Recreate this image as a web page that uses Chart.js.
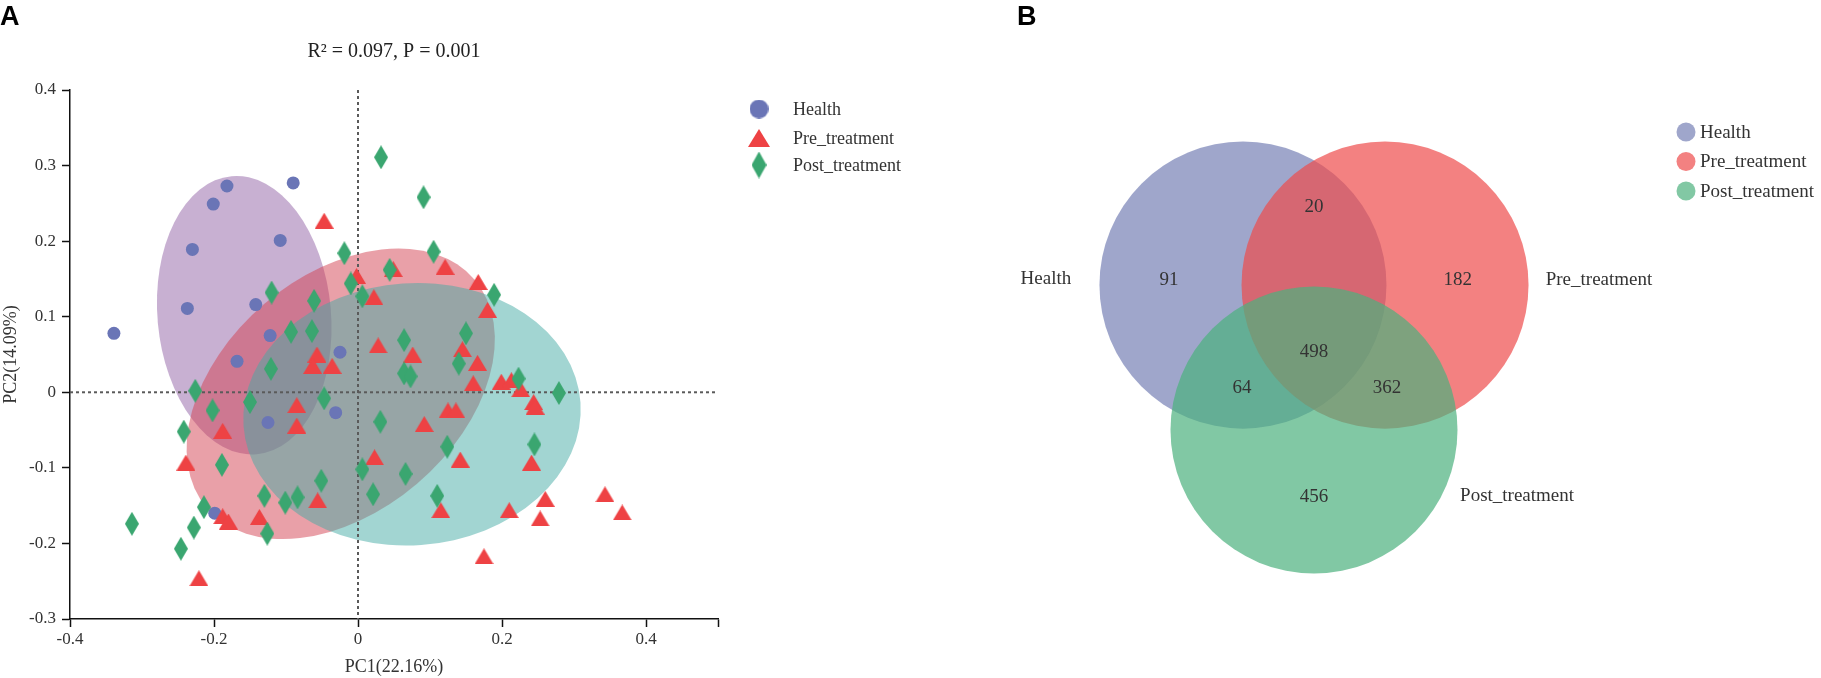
<!DOCTYPE html>
<html><head><meta charset="utf-8">
<script src="https://cdn.jsdelivr.net/npm/chart.js@4.4.0/dist/chart.umd.min.js"></script>
<style>
html,body{margin:0;padding:0;background:#fff;}
#wrap{position:relative;width:1821px;height:678px;overflow:hidden;background:#fff;}
#cA{position:absolute;left:0;top:0;}
#cB{position:absolute;left:1000px;top:0;}
</style></head><body>
<div id="wrap"><canvas id="cA" width="1000" height="678"></canvas><canvas id="cB" width="821" height="678"></canvas></div>
<script>
// ---------- DATA: panel A (PCoA) ----------
const groups = ['Health', 'Pre_treatment', 'Post_treatment'];
const healthX = [-0.339,-0.182,-0.201,-0.090,-0.230,-0.108,-0.237,-0.142,-0.122,-0.168,-0.025,-0.031,-0.125,-0.199];
const healthY = [0.078,0.273,0.249,0.277,0.189,0.201,0.111,0.116,0.075,0.041,0.053,-0.027,-0.040,-0.160];
const preX = [-0.047,-0.002,0.049,0.121,0.022,0.167,0.180,0.028,0.076,0.145,-0.057,-0.063,-0.036,0.166,
  0.160,0.199,0.213,0.226,0.244,0.246,0.125,0.136,0.092,-0.085,-0.085,-0.188,-0.239,0.023,0.142,0.241,
  -0.056,-0.137,-0.188,-0.180,0.115,0.210,0.260,0.253,0.343,0.367,0.175,-0.221];
const preY = [0.227,0.154,0.163,0.166,0.126,0.146,0.109,0.062,0.050,0.057,0.050,0.035,0.035,0.039,
  0.012,0.014,0.016,0.004,-0.013,-0.019,-0.024,-0.024,-0.042,-0.017,-0.044,-0.051,-0.093,-0.086,-0.089,-0.093,
  -0.143,-0.165,-0.164,-0.171,-0.156,-0.156,-0.141,-0.167,-0.135,-0.159,-0.217,-0.246];
const postX = [0.032,0.091,-0.019,0.105,0.044,-0.010,0.006,0.189,-0.120,-0.061,-0.093,-0.064,0.064,0.150,0.140,
  0.064,0.073,0.223,0.279,-0.121,-0.226,-0.202,-0.150,-0.047,0.031,-0.242,-0.189,0.245,0.124,0.006,0.066,
  -0.051,0.110,0.021,-0.130,-0.101,-0.084,-0.214,-0.126,-0.314,-0.228,-0.246];
const postY = [0.311,0.258,0.184,0.186,0.162,0.144,0.127,0.129,0.132,0.121,0.080,0.081,0.069,0.078,0.038,
  0.025,0.021,0.018,-0.001,0.031,0.002,-0.024,-0.013,-0.008,-0.039,-0.052,-0.096,-0.069,-0.072,-0.102,-0.108,
  -0.117,-0.137,-0.135,-0.137,-0.146,-0.139,-0.152,-0.187,-0.174,-0.179,-0.207];
// confidence ellipses: centre and two conjugate half-axes, in PC units
const ellipseCenter = [[-0.158, 0.102], [-0.024, -0.002], [0.075, -0.029]];
const ellipseAxisU  = [[-0.0175, 0.184], [0.186, 0.151], [0.234, 0.0156]];
const ellipseAxisV  = [[0.120, 0.0103], [-0.106, 0.119], [-0.0127, 0.173]];
const xTicks = [-0.4, -0.2, 0, 0.2, 0.4, 0.5];
const yTicks = [-0.3, -0.2, -0.1, 0, 0.1, 0.2, 0.3, 0.4];
const statsText = 'R\u00B2 = 0.097, P = 0.001';
const xTitle = 'PC1(22.16%)';
const yTitle = 'PC2(14.09%)';

// ---------- DATA: panel B (Venn) ----------
const vennSets = ['Health', 'Pre_treatment', 'Post_treatment'];
const vennRegions = ['Health', 'Pre_treatment', 'Post_treatment', 'Health&Pre', 'Health&Post', 'Pre&Post', 'All'];
const vennCounts = [91, 182, 456, 20, 64, 362, 498];

// ---------- STYLE / LAYOUT ----------
const SERIF = 'Liberation Serif, Times New Roman, serif';
const SANS = 'Liberation Sans, Arial, sans-serif';
const pointColors = ['rgb(106,117,182)', 'rgb(238,66,68)', 'rgb(58,166,112)'];
const ellipseFills = ['rgba(145,97,165,0.5)', 'rgba(211,65,81,0.5)', 'rgba(69,171,165,0.5)'];
const vennFills = ['rgba(118,128,181,0.7)', 'rgba(238,75,75,0.7)', 'rgba(76,176,125,0.7)'];
const vennLegendFills = ['rgb(159,166,203)', 'rgb(243,129,129)', 'rgb(130,200,164)'];
// Venn geometry in units of circle radius (origin at triple overlap)
const vennRadius = 1;
const vennCentres = [[-0.495, 0.334], [0.495, 0.334], [0.0, -0.676]];
const vennCountPos = [[-1.010, 0.369], [1.001, 0.369], [0, -1.143], [0, 0.878], [-0.502, -0.383], [0.509, -0.383], [0, -0.132]];
const vennNamePos = [[-1.868, 0.376], [1.986, 0.369], [1.415, -1.136]];

function makeShape(kind, w, h, color) {
  const c = document.createElement('canvas');
  c.width = w; c.height = h;
  const g = c.getContext('2d');
  g.fillStyle = color;
  g.beginPath();
  if (kind === 'diamond') { g.moveTo(w/2, 0); g.lineTo(w, h/2); g.lineTo(w/2, h); g.lineTo(0, h/2); }
  else if (kind === 'triangle') { g.moveTo(w/2, 0); g.lineTo(w, h); g.lineTo(0, h); }
  else { g.arc(w/2, h/2, w/2, 0, Math.PI*2); }
  g.closePath(); g.fill();
  return c;
}
const triImg = makeShape('triangle', 19, 16, pointColors[1]);
const diaImg = makeShape('diamond', 14, 24, pointColors[2]);
const legCirc = makeShape('circle', 19, 19, pointColors[0]);
const legTri = makeShape('triangle', 22, 18, pointColors[1]);
const legDia = makeShape('diamond', 15, 27, pointColors[2]);

const fmt = v => String(+(+v).toFixed(1));
const pts = (xs, ys) => xs.map((x, i) => ({x: x, y: ys[i]}));

const pcoaPlugin = {
  id: 'pcoaExtras',
  beforeDatasetsDraw(chart) {
    const {ctx, chartArea: a, scales: {x, y}} = chart;
    for (let i = 0; i < ellipseCenter.length; i++) {
      const c = ellipseCenter[i], u = ellipseAxisU[i], v = ellipseAxisV[i];
      const cx = x.getPixelForValue(c[0]), cy = y.getPixelForValue(c[1]);
      const ux = x.getPixelForValue(c[0] + u[0]) - cx, uy = y.getPixelForValue(c[1] + u[1]) - cy;
      const vx = x.getPixelForValue(c[0] + v[0]) - cx, vy = y.getPixelForValue(c[1] + v[1]) - cy;
      ctx.save();
      ctx.beginPath();
      ctx.transform(ux, uy, vx, vy, cx, cy);
      ctx.arc(0, 0, 1, 0, Math.PI * 2);
      ctx.restore();
      ctx.save();
      ctx.fillStyle = ellipseFills[i];
      ctx.fill();
      ctx.restore();
    }
    ctx.save();
    ctx.strokeStyle = '#5a5a5a';
    ctx.lineWidth = 2;
    ctx.setLineDash([3, 3]);
    const x0 = x.getPixelForValue(0), y0 = y.getPixelForValue(0);
    ctx.beginPath(); ctx.moveTo(x0, a.top); ctx.lineTo(x0, a.bottom); ctx.stroke();
    ctx.beginPath(); ctx.moveTo(a.left, y0); ctx.lineTo(a.right, y0); ctx.stroke();
    ctx.restore();
  },
  afterDraw(chart) {
    const {ctx, chartArea: a} = chart;
    ctx.save();
    ctx.fillStyle = '#222';
    ctx.font = '20px ' + SERIF;
    ctx.textAlign = 'center'; ctx.textBaseline = 'middle';
    ctx.fillText(statsText, (a.left + a.right) / 2, 52);
    ctx.font = 'bold 27px ' + SANS;
    ctx.textAlign = 'left'; ctx.textBaseline = 'alphabetic';
    ctx.fillStyle = '#000';
    ctx.fillText('A', 0, 25);
    const imgs = [legCirc, legTri, legDia];
    const ly = [109, 138, 165];
    ctx.font = '18px ' + SERIF;
    ctx.fillStyle = '#333';
    ctx.textBaseline = 'middle';
    for (let i = 0; i < groups.length; i++) {
      const im = imgs[i];
      ctx.drawImage(im, 759 - im.width / 2, ly[i] - im.height / 2);
      ctx.fillText(groups[i], 793, ly[i] + 1);
    }
    ctx.restore();
  }
};

const axisFont = {family: SERIF, size: 17};
new Chart(document.getElementById('cA'), {
  type: 'scatter',
  data: {
    datasets: [
      {label: groups[0], data: pts(healthX, healthY), pointStyle: 'circle', pointRadius: 6.5,
       backgroundColor: pointColors[0], borderWidth: 0, order: 3},
      {label: groups[1], data: pts(preX, preY), pointStyle: triImg, pointRadius: 9,
       backgroundColor: pointColors[1], borderWidth: 0, order: 2},
      {label: groups[2], data: pts(postX, postY), pointStyle: diaImg, pointRadius: 9,
       backgroundColor: pointColors[2], borderWidth: 0, order: 1}
    ]
  },
  options: {
    responsive: false, animation: false, devicePixelRatio: 1, events: [],
    layout: {padding: {top: 90, right: 282, left: 0, bottom: 0}},
    plugins: {legend: {display: false}, tooltip: {enabled: false}},
    scales: {
      x: {
        type: 'linear', min: -0.4, max: 0.5,
        afterBuildTicks: s => { s.ticks = xTicks.map(v => ({value: v})); },
        afterFit: s => { s.height = 59; },
        grid: {drawOnChartArea: false, drawTicks: true, tickLength: 8, tickColor: '#111', tickWidth: 1.5},
        border: {color: '#111', width: 1.5},
        ticks: {padding: 2, font: axisFont, color: '#333', maxRotation: 0, autoSkip: false,
                callback: v => (v === 0.5 ? '' : fmt(v))},
        title: {display: true, text: xTitle, font: {family: SERIF, size: 18}, color: '#333', padding: {top: 0, bottom: 0}}
      },
      y: {
        type: 'linear', min: -0.3, max: 0.4,
        afterBuildTicks: s => { s.ticks = yTicks.map(v => ({value: v})); },
        afterFit: s => { s.width = 70; },
        grid: {drawOnChartArea: false, drawTicks: true, tickLength: 8, tickColor: '#111', tickWidth: 1.5},
        border: {color: '#111', width: 1.5},
        ticks: {padding: 6, font: axisFont, color: '#333', autoSkip: false, callback: v => fmt(v)},
        title: {display: true, text: yTitle, font: {family: SERIF, size: 18}, color: '#333', padding: {top: 0, bottom: 0}}
      }
    }
  },
  plugins: [pcoaPlugin]
});

// ---------- Panel B ----------
// circles are drawn at the positions Chart.js computes for each set's centre point,
// with the radius converted through the x scale.
const vennPlugin = {
  id: 'vennExtras',
  beforeDatasetsDraw(chart) {
    const {ctx, scales: {x}} = chart;
    const rPx = Math.abs(x.getPixelForValue(vennRadius) - x.getPixelForValue(0));
    ctx.save();
    chart.data.datasets.forEach((ds, i) => {
      const el = chart.getDatasetMeta(i).data[0];
      if (!el) return;
      ctx.fillStyle = vennFills[i];
      ctx.beginPath();
      ctx.arc(el.x, el.y, rPx, 0, Math.PI * 2);
      ctx.fill();
    });
    ctx.restore();
  },
  afterDatasetsDraw(chart) {
    const {ctx, scales: {x, y}} = chart;
    ctx.save();
    ctx.font = '19px ' + SERIF;
    ctx.fillStyle = '#333';
    ctx.textAlign = 'center'; ctx.textBaseline = 'middle';
    vennCounts.forEach((n, i) => {
      const p = vennCountPos[i];
      ctx.fillText(String(n), x.getPixelForValue(p[0]), y.getPixelForValue(p[1]));
    });
    vennSets.forEach((s, i) => {
      const p = vennNamePos[i];
      ctx.fillText(s, x.getPixelForValue(p[0]), y.getPixelForValue(p[1]));
    });
    const ly = [132, 161.5, 191];
    ctx.textAlign = 'left';
    vennSets.forEach((s, i) => {
      ctx.fillStyle = vennLegendFills[i];
      ctx.beginPath(); ctx.arc(686, ly[i], 9.5, 0, Math.PI * 2); ctx.fill();
      ctx.fillStyle = '#333';
      ctx.fillText(s, 700, ly[i] + 1);
    });
    ctx.font = 'bold 27px ' + SANS;
    ctx.fillStyle = '#000';
    ctx.textBaseline = 'alphabetic';
    ctx.fillText('B', 17, 25);
    ctx.restore();
  }
};
new Chart(document.getElementById('cB'), {
  type: 'scatter',
  data: {
    datasets: vennSets.map((s, i) => ({
      label: s,
      data: [{x: vennCentres[i][0], y: vennCentres[i][1]}],
      pointRadius: 0, borderWidth: 0, backgroundColor: vennFills[i]
    }))
  },
  options: {
    responsive: false, animation: false, devicePixelRatio: 1, events: [],
    layout: {padding: 0},
    plugins: {legend: {display: false}, tooltip: {enabled: false}},
    scales: {
      x: {type: 'linear', min: -2.188, max: 3.533, display: false},
      y: {type: 'linear', min: -2.404, max: 2.321, display: false}
    }
  },
  plugins: [vennPlugin]
});
</script>
</body></html>
